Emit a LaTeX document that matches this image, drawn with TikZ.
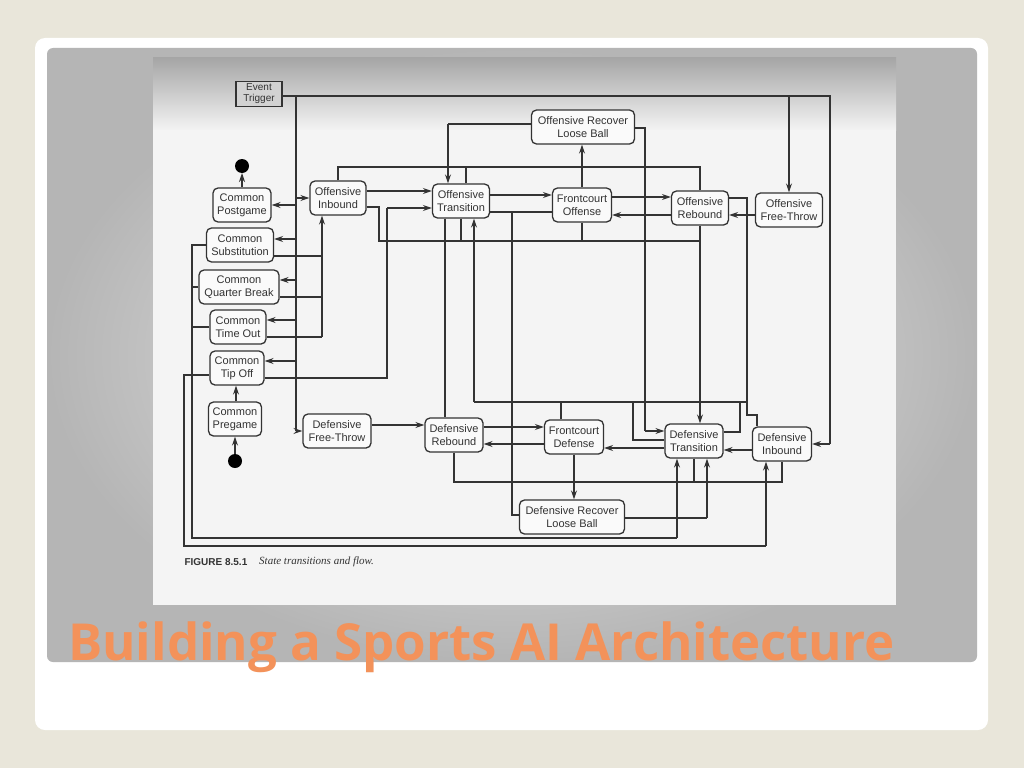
\documentclass[tikz,border=0pt]{standalone}
\usepackage{fontspec}
\setmainfont{Liberation Sans}
\newfontfamily\titlefont{Open Sans}
\newfontfamily\serifcap{Liberation Serif}
\usetikzlibrary{arrows.meta}
\pgfdeclarelayer{bgl}
\pgfsetlayers{bgl,main}
\definecolor{bg}{HTML}{E9E6DA}
\definecolor{ttl}{HTML}{F3925A}
\definecolor{ink}{HTML}{333333}
\begin{document}
\begin{tikzpicture}[x=1pt,y=-1pt,
  st/.style={draw=ink,line width=1.3pt,rounded corners=5pt,fill=white!96!gray,align=center,
    inner sep=1pt,minimum height=34pt,font=\fontsize{11}{13}\selectfont,text=ink},
  ln/.style={draw=ink,line width=1.2pt},
  ar/.style={ln,-{Stealth[length=9pt,width=6pt]}}]
\useasboundingbox (0,0) rectangle (1024,768);
\begin{pgfonlayer}{bgl}
\fill[bg] (0,0) rectangle (1024,768);
\fill[white,rounded corners=10pt] (35,38) rectangle (988,730);
\shade[inner color=gray!15,outer color=gray!58,rounded corners=6pt] (47,48) rectangle (977,662);
\fill[gray!9] (153,58) rectangle (896,605);
\shade[top color=gray!70,bottom color=gray!9] (153,58) rectangle (896,130);
\end{pgfonlayer}
% nodes
\node[draw=ink,line width=1.2pt,fill=gray!35,font=\fontsize{10}{11}\selectfont,align=center,inner sep=1pt,minimum width=46pt,minimum height=25pt,text=ink] (et) at (259,94) {Event\\Trigger};
\node[st,minimum width=58pt] (cpg) at (242,205) {Common\\Postgame};
\node[st,minimum width=67pt] (csu) at (240,245) {Common\\Substitution};
\node[st,minimum width=80pt] (cqb) at (239,287) {Common\\Quarter Break};
\node[st,minimum width=56pt] (cto) at (238,327) {Common\\Time Out};
\node[st,minimum width=54pt] (cti) at (237,368) {Common\\Tip Off};
\node[st,minimum width=53pt] (cpr) at (235,419) {Common\\Pregame};
\fill[black] (242,166) circle (7pt) coordinate (endd);
\fill[black] (235,461) circle (7pt) coordinate (startd);
\node[st,minimum width=56pt] (oi) at (338,198) {Offensive\\Inbound};
\node[st,minimum width=57pt] (ot) at (461,201) {Offensive\\Transition};
\node[st,minimum width=103pt] (orl) at (583,127) {Offensive Recover\\Loose Ball};
\node[st,minimum width=59pt] (fo) at (582,205) {Frontcourt\\Offense};
\node[st,minimum width=57pt] (orb) at (700,208) {Offensive\\Rebound};
\node[st,minimum width=67pt] (oft) at (789,210) {Offensive\\Free-Throw};
\node[st,minimum width=68pt] (dft) at (337,431) {Defensive\\Free-Throw};
\node[st,minimum width=58pt] (drb) at (454,435) {Defensive\\Rebound};
\node[st,minimum width=59pt] (fd) at (574,437) {Frontcourt\\Defense};
\node[st,minimum width=105pt] (drl) at (572,517) {Defensive Recover\\Loose Ball};
\node[st,minimum width=58pt] (dt) at (694,441) {Defensive\\Transition};
\node[st,minimum width=59pt] (di) at (782,444) {Defensive\\Inbound};
\node[anchor=west,font=\fontsize{10}{11}\selectfont\bfseries,text=ink] (cap) at (181,562) {FIGURE 8.5.1};
\node[anchor=west,font=\serifcap\fontsize{11}{12}\selectfont\itshape,text=ink,inner sep=0] (capt) at (259,562) {State transitions and flow.};
\begin{pgfonlayer}{bgl}
% common start/end
\draw[ar] (startd) -- (startd |- cpr.south);
\draw[ar] (cpr.north -| 236,0) -- (cti.south -| 236,0);
\draw[ar] (cpg.north) -- ([yshift=-7pt]endd);
% event trigger
\draw[ln] (et.east |- 0,96) -- (830,96) -- (830,444);
\draw[ar] (830,444) -- (di.east);
\draw[ar] (789,96) -- (oft.north);
\draw[ln] (296,96) -- (296,431);
\draw[ar] (296,431) -- (dft.west);
\draw[ar] (296,198) -- (oi.west);
\draw[ar] (296,205) -- (cpg.east);
\draw[ar] (296,239) -- (csu.east |- 0,239);
\draw[ar] (296,280) -- (cqb.east |- 0,280);
\draw[ar] (296,320) -- (cto.east |- 0,320);
\draw[ar] (296,361) -- (cti.east |- 0,361);
% commons to offensive inbound
\draw[ln] (csu.east |- 0,256) -- (322,256);
\draw[ln] (cqb.east |- 0,297) -- (322,297);
\draw[ln] (cto.east |- 0,337) -- (322,337);
\draw[ar] (322,337) -- (322,256) -- (oi.south -| 322,0);
\draw[ln] (cti.east |- 0,378) -- (387,378) -- (387,208);
\draw[ar] (387,208) -- (ot.west |- 0,208);
% commons left to defense
\draw[ln] (csu.west |- 0,245) -- (192,245) -- (192,538) -- (677,538);
\draw[ln] (cqb.west |- 0,287) -- (192,287);
\draw[ln] (cto.west |- 0,327) -- (192,327);
\draw[ar] (677,538) -- (dt.south -| 677,0);
\draw[ln] (cti.west |- 0,375) -- (184,375) -- (184,546) -- (766,546);
\draw[ar] (766,546) -- (di.south -| 766,0);
% offensive
\draw[ar] (oi.east |- 0,191) -- (ot.west |- 0,191);
\draw[ar] (ot.east |- 0,195) -- (fo.west |- 0,195);
\draw[ar] (fo.east |- 0,197) -- (orb.west |- 0,197);
\draw[ar] (orb.west |- 0,215) -- (fo.east |- 0,215);
\draw[ar] (oft.west |- 0,215) -- (orb.east |- 0,215);
\draw[ar] (fo.north) -- (orl.south -| fo.north);
\draw[ln] (orl.west |- 0,124) -- (448,124);
\draw[ar] (448,124) -- (ot.north -| 448,0);
\draw[ln] (oi.north) -- (338,167) -- (700,167) -- (orb.north);
\draw[ln] (ot.north -| 466,0) -- (466,167);
\draw[ln] (oi.east |- 0,207) -- (379,207) -- (379,241) -- (700,241);
\draw[ln] (ot.south -| 461,0) -- (461,241);
\draw[ln] (fo.south) -- (fo.south |- 0,241);
\draw[ar] (orb.south) -- (dt.north -| orb.south);
\draw[ln] (ot.east |- 0,212) -- (fo.west |- 0,212);
\draw[ln] (512,212) -- (512,515) -- (drl.west |- 0,515);
\draw[ln] (orl.east |- 0,128) -- (645,128) -- (645,431);
\draw[ar] (645,431) -- (dt.west |- 0,431);
\draw[ln] (orb.east |- 0,198) -- (747,198) -- (747,415) -- (757,415) -- (di.north -| 757,0);
\draw[ln] (ot.south -| 445,0) -- (drb.north -| 445,0);
% defensive
\draw[ar] (dft.east |- 0,425) -- (drb.west |- 0,425);
\draw[ar] (drb.east |- 0,427) -- (fd.west |- 0,427);
\draw[ar] (fd.west |- 0,444) -- (drb.east |- 0,444);
\draw[ar] (fd.south) -- (drl.north -| fd.south);
\draw[ar] (dt.west |- 0,448) -- (fd.east |- 0,448);
\draw[ar] (di.west |- 0,450) -- (dt.east |- 0,450);
\draw[ln] (drl.east |- 0,518) -- (707,518);
\draw[ar] (707,518) -- (dt.south -| 707,0);
\draw[ln] (474,402) -- (748,402);
\draw[ar] (474,402) -- (ot.south -| 474,0);
\draw[ln] (fd.north -| 561,0) -- (561,402);
\draw[ln] (dt.west |- 0,440) -- (633,440) -- (633,402);
\draw[ln] (dt.east |- 0,432) -- (740,432) -- (740,402);
\draw[ln] (drb.south) -- (454,482) -- (782,482) -- (di.south);
\draw[ln] (dt.south) -- (694,482);
\end{pgfonlayer}
% title
\node[anchor=base west,font=\titlefont\fontsize{51}{58}\selectfont\bfseries,text=ttl,inner sep=0] (title) at (68,660) {Building a Sports AI Architecture};
\end{tikzpicture}
\end{document}
